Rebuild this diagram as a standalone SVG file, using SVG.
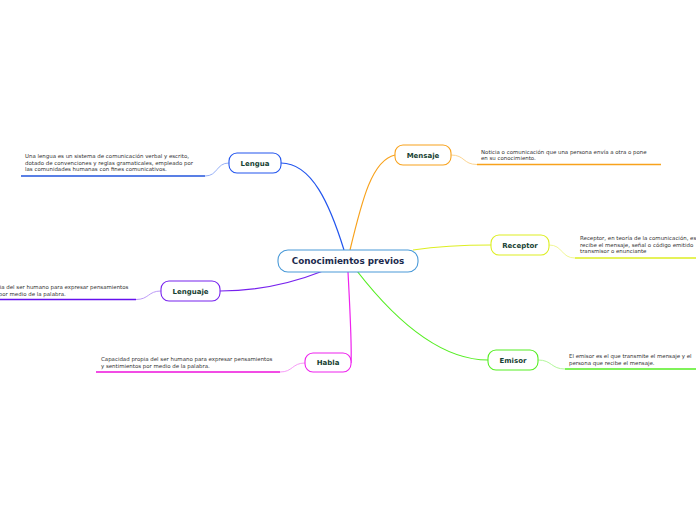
<svg xmlns="http://www.w3.org/2000/svg" width="696" height="520" viewBox="0 0 696 520">
<style>
.node rect{fill:#fff;stroke-width:1.1}
.lbl{font-family:"DejaVu Sans",Verdana,sans-serif;font-weight:bold;font-size:7px;fill:#173f33;text-anchor:middle}
.main{font-family:"DejaVu Sans",Verdana,sans-serif;font-weight:bold;font-size:8.8px;fill:#1b2a4e;text-anchor:middle}
.desc{font-family:"DejaVu Sans",Verdana,sans-serif;font-size:5.45px;fill:#333}
.conn path{fill:none}
.ul{stroke-width:1.6}
.lk{stroke-width:0.9}
</style>
<rect width="696" height="520" fill="#fff"/>
<g id="connectors" class="conn">
<path d="M281,163 C312,163 330,205 344,250" stroke="#2255ee" stroke-width="1.2"/>
<path d="M350,250 C362,200 372,160 395,155" stroke="#f8a21c" stroke-width="1.2"/>
<path d="M413,250 C440,246 462,245 491,245" stroke="#ddee22" stroke-width="1.2"/>
<path d="M323,271 C290,284 255,291 220,291" stroke="#7722ee" stroke-width="1.2"/>
<path d="M348,272 C350,310 352,345 351,363" stroke="#ee22ee" stroke-width="1.2"/>
<path d="M357,271 C395,320 440,360 488,360" stroke="#55ee22" stroke-width="1.2"/>
<path class="lk" d="M229,163 C216,163 218,176 205,176" stroke="#8aa6f5"/>
<path class="ul" d="M21,176 H205" stroke="#2255dd"/>
<path class="lk" d="M451,155 C465,155 463,164.5 477,164.5" stroke="#fbcf85"/>
<path class="ul" d="M477,164.5 H661" stroke="#f8a21c"/>
<path class="lk" d="M549,245 C563,245 561,258 575,258" stroke="#eef588"/>
<path class="ul" d="M575,258 H696" stroke="#ddee22"/>
<path class="lk" d="M161,291 C148,291 149,299.5 136,299.5" stroke="#b48ff5"/>
<path class="ul" d="M0,299.5 H136" stroke="#6611ee"/>
<path class="lk" d="M305,363 C292,363 293,372 280,372" stroke="#f58ff5"/>
<path class="ul" d="M96,372 H280" stroke="#ee11dd"/>
<path class="lk" d="M538,360 C552,360 551,369 565,369" stroke="#a8f58f"/>
<path class="ul" d="M565,369 H696" stroke="#55ee22"/>
</g>
<g id="central" class="node">
<rect x="278" y="250" width="140" height="22" rx="10" stroke="#4a9ad8"/>
<text class="main" x="348" y="264">Conocimientos previos</text>
</g>
<g id="lengua" class="node">
<rect x="229" y="153" width="52" height="20" rx="8" stroke="#2255ee"/>
<text class="lbl" x="255" y="165.5">Lengua</text>
<text class="desc" x="25" y="158">Una lengua es un sistema de comunicación verbal y escrito,</text>
<text class="desc" x="25" y="164.5">dotado de convenciones y reglas gramaticales, empleado por</text>
<text class="desc" x="25" y="171">las comunidades humanas con fines comunicativos.</text>
</g>
<g id="mensaje" class="node">
<rect x="395" y="145" width="56" height="20" rx="8" stroke="#f8a21c"/>
<text class="lbl" x="423" y="157.5">Mensaje</text>
<text class="desc" x="481" y="153.5">Noticia o comunicación que una persona envía a otra o pone</text>
<text class="desc" x="481" y="160">en su conocimiento.</text>
</g>
<g id="receptor" class="node">
<rect x="491" y="235" width="58" height="20" rx="8" stroke="#ddee22"/>
<text class="lbl" x="520" y="247.5">Receptor</text>
<text class="desc" x="580" y="240">Receptor, en teoría de la comunicación, es</text>
<text class="desc" x="580" y="246.7">recibe el mensaje, señal o código emitido</text>
<text class="desc" x="580" y="253">transmisor o enunciante</text>
</g>
<g id="lenguaje" class="node">
<rect x="161" y="281" width="59" height="20" rx="8" stroke="#7722ee"/>
<text class="lbl" x="190.5" y="293.5">Lenguaje</text>
<text class="desc" x="-43" y="288.5">Capacidad propia del ser humano para expresar pensamientos</text>
<text class="desc" x="-43" y="295.5">y sentimientos por medio de la palabra.</text>
</g>
<g id="habla" class="node">
<rect x="305" y="353" width="46" height="19" rx="8" stroke="#ee22ee"/>
<text class="lbl" x="328" y="365">Habla</text>
<text class="desc" x="101" y="361">Capacidad propia del ser humano para expresar pensamientos</text>
<text class="desc" x="101" y="367.5">y sentimientos por medio de la palabra.</text>
</g>
<g id="emisor" class="node">
<rect x="488" y="350" width="50" height="20" rx="8" stroke="#55ee22"/>
<text class="lbl" x="513" y="362.5">Emisor</text>
<text class="desc" x="569" y="358">El emisor es el que transmite el mensaje y el</text>
<text class="desc" x="569" y="365">persona que recibe el mensaje.</text>
</g>
</svg>
